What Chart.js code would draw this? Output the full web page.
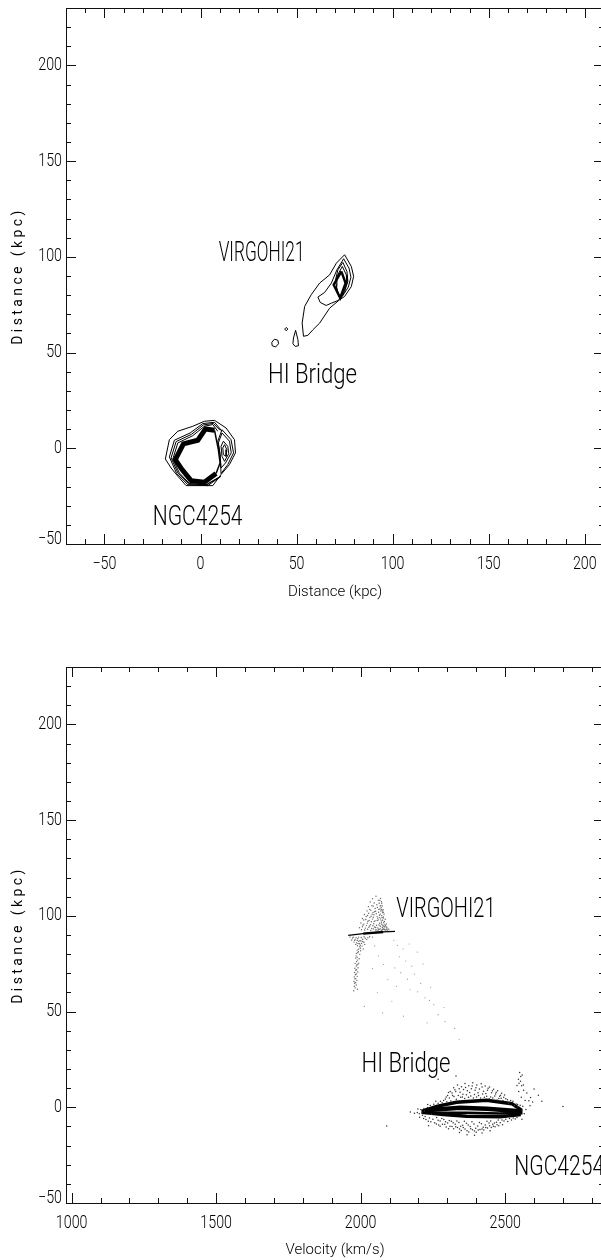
<!DOCTYPE html>
<html>
<head>
<meta charset="utf-8">
<script src="https://cdn.jsdelivr.net/npm/chart.js@4"></script>
<style>
  html, body { margin: 0; padding: 0; background: #fff; overflow: hidden; width: 601px; height: 1260px; }
  canvas { display: block; }
</style>
</head>
<body>
<canvas id="mapChart" width="610" height="630"></canvas>
<canvas id="velChart" width="610" height="633"></canvas>
<script>
// tick values
const distMajor = [-50, 0, 50, 100, 150, 200];
const distMinor = [-60, -40, -30, -20, -10, 10, 20, 30, 40, 60, 70, 80, 90, 110, 120, 130, 140, 160, 170, 180, 190, 210, 220];
const velMajor = [1000, 1500, 2000, 2500];
const velMinor = [1100, 1200, 1300, 1400, 1600, 1700, 1800, 1900, 2100, 2200, 2300, 2400, 2600, 2700, 2800];

// top panel contours (kpc, kpc)
const virgoOuter = [[75, 101.1], [78.5, 95], [79.7, 89.8], [78.5, 84.5], [75, 79.3], [72.4, 77.6], [67.2, 73.2], [62, 65.4], [58.5, 61.9], [55.9, 59], [53.6, 58.5], [52.9, 65.4], [54.2, 74.1], [57.6, 80.2], [62, 86.3], [67.2, 90.6], [70.7, 96.7]];
const virgoHook = [[74.5, 99], [77.3, 94.1], [78.3, 89.4], [76.9, 84.2], [73.8, 79.3], [71.5, 77.2], [68.1, 75.8], [65.4, 74.6], [62.3, 76.2], [61.1, 79], [64.6, 81.4], [68.1, 86.3], [71, 93.2]];
const virgoMid1 = [[74.1, 97.1], [76.2, 92.4], [76.7, 87.2], [75, 81.9], [72.7, 77.9], [71, 82.8], [70.3, 88], [71.5, 93.2]];
const virgoMid2 = [[73.8, 95], [75.9, 90.6], [76.2, 86.3], [74.1, 80.2], [72.4, 78.5], [70.7, 84.5], [71, 89.8]];
const virgoCore = [[73.3, 92.4], [75.5, 86.3], [72.7, 78.5], [69.3, 85.4]];
const blobA = [[37.1, 55.3], [38.5, 57], [40.3, 56.4], [40.6, 54.6], [39.1, 52.9], [37.3, 53.6]];
const blobB = [[43.8, 62.3], [44.6, 63.1], [45.5, 62.3], [44.6, 61.4]];
const blobC = [[49.5, 61.6], [50.7, 56.7], [51, 53.6], [49.3, 53.2], [48.1, 54.6], [48.4, 57.6]];
const ngcOuter = [[-18.3, -5.6], [-16.2, 4.5], [-11.8, 8.9], [-4, 11.5], [2, 14.1], [7.3, 14.6], [13.3, 10.6], [17.7, 4.5], [18.2, -2.4], [15.1, -8.5], [10.7, -13.7], [6.4, -19.5], [-7.5, -19.5], [-11.8, -14.6], [-15.3, -10.3]];
const ngcBand = [[8.1, -13.2], [2, -17.7], [-4.9, -16.9], [-9.6, -11.1], [-13.1, -5.9], [-8.9, 2.3], [-1.4, 4.2], [2.6, 10.1], [7.3, 9.4]];
const ngcBandRight = [[7.3, 9.4], [9.3, -0.7], [10.2, -7.7], [8.1, -13.2]];
const ngcArcB = [[9, -15.5], [2.9, -19], [-5.8, -18.4], [-11, -12.9], [-14.4, -5.6], [-11.8, 2.8], [-4, 6.6], [2, 11.5], [6.4, 12.4], [9, 8.9]];
const ngcArcC = [[10.7, -14.6], [3.8, -19.5], [-6.6, -19], [-12.4, -13.2], [-16.2, -4.5], [-13.6, 4.2], [-5.4, 8], [1.2, 12.9], [7.3, 13.6], [11.2, 8.9]];
const ngcArcD = [[9.9, -15], [3.3, -19.1], [-6.1, -18.6], [-11.7, -13], [-15.3, -5], [-12.7, 3.5], [-4.7, 7.3], [1.5, 12.2], [6.7, 13], [10.2, 9.4]];
const ngcLobe0 = [[11.2, 9.7], [15.9, 4.5], [17.2, -2.4], [14.2, -8.5], [10.7, -13.2], [10.2, -3.3], [9, 3.7]];
const ngcLobe1 = [[11.2, 8], [15.1, 3.7], [16, -2.4], [13, -7.7], [10.7, -10.3], [10.2, -3.3], [9.3, 2.8]];
const ngcLobe2 = [[11.9, 3.7], [14.2, 1], [14.7, -2.8], [12.5, -6.8], [11.2, -4.2], [10.7, 1]];
const ngcLobe3 = [[12.5, 1.9], [13.7, -0.7], [13.3, -4.2], [11.9, -3.3], [11.6, 0.2]];

// bottom panel lines (km/s, kpc)
const virgoLine = [[1957, 89.8], [2009, 90.7], [2078, 91.6], [2119, 91.9]];
const virgoLineCore = [[2009, 90.7], [2078, 91.6]];
const ngcUpper = [[2211, -2.1], [2263, 0.5], [2332, 2.6], [2436, 3.7], [2523, 1.9], [2554, -1.2], [2554, -3.8]];
const ngcLower = [[2211, -2.6], [2286, -3.8], [2367, -4.7], [2482, -5], [2554, -3.8]];
const ngcMid1 = [[2225, -1.6], [2344, -0.3], [2436, -0.8], [2552, -2.1]];
const ngcMid2 = [[2235, -2.8], [2367, -2.9], [2482, -3.3], [2552, -2.9]];

// bottom panel particles
const virgoCloud = [[2041, 109], [2053, 110.3], [2061, 108.2], [2069, 109.1], [2033, 107.2], [2047, 106.7], [2056, 105.8], [2064, 106.6], [2072, 107.4], [2027, 104.8], [2039, 105.3], [2050, 103.9], [2058, 104.4], [2067, 103.6], [2075, 105.2], [2022, 102.6], [2031, 103.4], [2043, 101.8], [2052, 102.4], [2062, 101.9], [2070, 102.5], [2078, 103.2], [2013, 100.7], [2024, 100.2], [2036, 99.8], [2046, 100.6], [2057, 99.6], [2065, 100.3], [2073, 100.1], [2081, 100.9], [2006, 98.6], [2018, 98.1], [2029, 97.6], [2041, 98.3], [2050, 97.4], [2061, 97.9], [2069, 98.4], [2076, 97.7], [2085, 98.2], [2001, 96.3], [2011, 95.7], [2023, 96.2], [2034, 95.4], [2045, 95.9], [2055, 95.1], [2066, 96.1], [2073, 95.6], [2080, 96.4], [2089, 95.8], [1996, 93.8], [2006, 94.3], [2016, 93.6], [2028, 94.1], [2038, 93.4], [2048, 94.2], [2059, 93.7], [2068, 94.4], [2075, 93.9], [2083, 94.3], [2091, 93.8], [2003, 92.8], [2014, 92.6], [2024, 93], [2035, 92.4], [2044, 93.1], [2056, 92.7], [2064, 92.9], [2072, 92.5], [2079, 93.1], [2086, 92.6], [2095, 93.1], [2071, 104.2], [2076, 101.6], [2078, 98.8], [2082, 97.1], [2074, 99.2], [2068, 100.9], [2086, 94.9], [2090, 93], [2066, 108.1], [2070, 105.4], [2073, 103.2], [2077, 95.1], [2081, 93.6], [2067, 94.9], [2060, 92.2]];
const virgoCloud2 = [[2044, 105.1], [2035, 102.9], [2048, 102.2], [2028, 101.4], [2040, 100.9], [2054, 101.1], [2019, 99.7], [2032, 99.1], [2044, 99.3], [2059, 98.8], [2011, 97.8], [2025, 97.2], [2037, 96.9], [2047, 97.1], [2057, 97.6], [2008, 95.2], [2020, 94.9], [2031, 94.7], [2042, 94.8], [2052, 93.9], [2063, 95.3], [2071, 97.4], [2079, 99.4], [2084, 95.4], [2088, 94.3], [2073, 106.6], [2067, 105.1], [2063, 103.3], [2075, 102.6], [2079, 101.9], [2065, 99.1], [2072, 96.6], [2078, 94.6], [2069, 93.2], [2076, 92.9], [2083, 92.8], [2092, 92.3], [2098, 92.7], [2063, 93.1], [2052, 92.6], [1963, 88.9], [1969, 87.4], [1975, 88.9], [1984, 88.6], [1993, 88.9], [2002, 88.7], [2012, 89.1], [2021, 87.6], [2031, 89.1], [2041, 88.9], [1979, 87.2], [1988, 87.1], [1996, 85.4], [2001, 86.9], [2007, 86.6], [1983, 85.1], [1991, 85.6], [1999, 84.7], [2014, 85.1], [1992, 81.3], [1988, 82.1], [1985, 80.4], [1983, 77.9], [1989, 76.9], [1981, 75.2], [1987, 74.4], [1980, 72.6], [1986, 71.9], [1979, 70.4], [1985, 69.6], [1978, 68.1], [1983, 67.2], [1977, 65.7], [1983, 65.1], [1978, 63.2]];
const virgoBelow = [[1972, 88.4], [1981, 87.6], [1990, 88.1], [1998, 87.2], [2007, 87.8], [2016, 88.3], [2025, 88.6], [1977, 86.3], [1986, 85.9], [1994, 86.7], [2003, 85.6], [2011, 86.2], [1989, 84.4], [1997, 83.9], [2005, 84.2], [1993, 82.6], [2000, 81.8], [1990, 80.7], [1997, 79.9], [1988, 78.4], [1995, 77.6], [1986, 76.1], [1993, 75.3], [1985, 73.8], [1991, 72.9], [1983, 71.6], [1990, 70.7], [1982, 69.2], [1988, 68.4], [1980, 67.1], [1987, 66.3], [1979, 64.8], [1985, 63.9], [1981, 62.4], [1989, 61.7], [1976, 60.9], [1990, 74.6], [1984, 79.1], [1999, 83.1], [2009, 82.7]];
const virgoSparse = [[2115, 87.2], [2127, 84.6], [2147, 82.8], [2168, 85.3], [2134, 78.6], [2156, 76.4], [2177, 73.7], [2196, 81.1], [2118, 72.8], [2139, 70.3], [2162, 66.9], [2186, 69.6], [2208, 64.7], [2124, 63.2], [2171, 61.4], [2197, 60.3], [2223, 57.2], [2238, 55.8], [2253, 53.6], [2242, 62.7], [2268, 48.4], [2292, 44.8], [2325, 41.2], [2341, 35.4], [2288, 52.1], [2216, 74.8], [2048, 84.3], [2062, 79.1], [2079, 74.6], [2094, 66.7], [2041, 72.4], [2058, 60.1], [2108, 55.4], [2013, 52.7], [2076, 49.3], [2148, 47.6], [2230, 44.1]];
const ngcCloud = [[2310, 8.3], [2322, 10.2], [2335, 11.6], [2349, 10.7], [2361, 12.4], [2374, 11.2], [2388, 12.8], [2402, 11.7], [2417, 12.3], [2431, 11.1], [2446, 10.6], [2460, 9.4], [2474, 8.7], [2488, 7.3], [2301, 6.1], [2316, 7.4], [2329, 8.2], [2344, 7.8], [2356, 9.3], [2369, 8.6], [2383, 9.7], [2396, 8.9], [2411, 9.6], [2425, 8.4], [2439, 8.9], [2453, 7.6], [2467, 6.9], [2481, 5.7], [2495, 5.2], [2508, 3.9], [2293, 4.3], [2307, 4.9], [2323, 5.6], [2338, 6.1], [2352, 5.4], [2366, 6.6], [2381, 5.9], [2394, 6.7], [2408, 6.2], [2422, 6.9], [2436, 5.8], [2450, 5.4], [2464, 5.9], [2478, 4.6], [2492, 3.6], [2514, 2.6], [2527, 3.1], [2538, 1.7], [2282, 2.4], [2298, 2.9], [2312, 3.3], [2331, 4.2], [2360, 4.6], [2390, 4.9], [2415, 4.8], [2445, 4.4], [2472, 3.8], [2502, 4.4], [2532, 0.9], [2268, 2.1], [2253, 1.6], [2241, 0.9], [2544, 0.3], [2231, -0.1], [2223, -4.8], [2238, -5.6], [2250, -6.2], [2263, -5.4], [2275, -7.1], [2288, -6.4], [2301, -8.2], [2314, -7.3], [2327, -8.9], [2340, -7.9], [2353, -9.4], [2366, -8.3], [2379, -10.1], [2392, -8.7], [2405, -9.8], [2418, -8.6], [2431, -9.3], [2444, -8.2], [2457, -8.9], [2470, -7.8], [2483, -8.1], [2496, -7.2], [2509, -7.4], [2522, -6.6], [2535, -6.1], [2270, -9.3], [2283, -8.8], [2296, -10.3], [2309, -9.9], [2322, -11.2], [2335, -10.6], [2348, -12.1], [2361, -11.3], [2374, -12.9], [2387, -11.7], [2400, -13.1], [2413, -11.6], [2426, -11.9], [2439, -10.8], [2452, -10.6], [2465, -10.2], [2478, -9.6], [2491, -9.1], [2342, -13.2], [2368, -14.4], [2394, -14.6], [2420, -13.4], [2448, -12.3], [2556, 5.3], [2547, 8.2], [2541, 11.4], [2553, 13.6], [2559, 16.9], [2550, 18.2], [2563, 11.7], [2575, 7.4], [2588, 5.1], [2600, 9.6], [2615, 6.3], [2627, 3.2], [2569, 3.6], [2700, 0.4], [2586, 0.8], [2235, -9.6], [2198, -0.9], [2186, -3.1], [2172, -2.4], [2204, -5.2], [2090, -9.8], [2268, 14.7], [2330, 16.3]];
const ngcCloud2 = [[2318, 6.2], [2326, 9.1], [2341, 9.7], [2354, 6.8], [2363, 10.4], [2377, 7.7], [2386, 11.1], [2399, 10.2], [2406, 7.6], [2420, 10.6], [2433, 7.2], [2441, 9.9], [2456, 8.6], [2469, 7.9], [2484, 6.3], [2498, 6.4], [2296, 5.4], [2304, 7.7], [2287, 3.6], [2276, 3.1], [2346, 5.2], [2373, 5.3], [2401, 5.4], [2428, 5.3], [2457, 4.9], [2486, 4.7], [2511, 1.9], [2519, 3.6], [2543, 1.4], [2552, 1.1], [2219, -0.6], [2208, -1.1], [2214, -4.1], [2203, -3.4], [2226, -6.4], [2243, -7.6], [2256, -8.1], [2268, -6.8], [2281, -5.9], [2294, -7.6], [2307, -6.9], [2320, -8.1], [2333, -7.2], [2346, -9.9], [2359, -7.3], [2372, -9.2], [2385, -7.6], [2398, -10.9], [2411, -7.9], [2424, -10.4], [2437, -7.3], [2450, -7.1], [2463, -8.2], [2476, -6.6], [2489, -6.7], [2502, -6.3], [2515, -5.9], [2528, -5.6], [2541, -5.3], [2262, -8.7], [2275, -9.9], [2291, -8.9], [2304, -11.2], [2316, -10.1], [2329, -10.2], [2342, -11.4], [2355, -10.6], [2368, -12.3], [2381, -11.2], [2394, -12.4], [2407, -11.9], [2420, -11.4], [2433, -10.6], [2446, -9.7], [2459, -9.9], [2472, -9.1], [2234, -7.3], [2218, -5.9], [2196, -2.7], [2558, -1.6], [2561, 0.6], [2566, -3.4], [2558, -6.2], [2572, -1.2], [2564, 8.9], [2557, 11.2], [2546, 14.7], [2554, 16.1], [2548, 12.6], [2582, 3.4], [2595, 2.7], [2245, -3.6], [2260, 3.1], [2232, 1.4], [2220, -1.9], [2212, -2.8]];

// text labels placed by data position: text, x, y, horizontal squeeze
const mapLabels = [["VIRGOHI21", 31.8, 101.6, 0.64], ["HI Bridge", 58.3, 37.5, 0.82], ["NGC4254", -1.5, -36.5, 0.78]];
const velLabels = [["VIRGOHI21", 2295, 103, 0.74], ["HI Bridge", 2157, 22, 0.82], ["NGC4254", 2687, -32, 0.78]];

const thinFont = "Roboto, sans-serif";
const ink = "#000";

function contour(points, width) {
  const closed = points.concat([points[0]]);
  return polyline(closed, width);
}

function polyline(points, width) {
  return {
    data: points.map((p) => ({ x: p[0], y: p[1] })),
    showLine: true,
    borderColor: "#000",
    borderWidth: width,
    borderJoinStyle: "miter",
    pointRadius: 0,
    tension: 0,
  };
}

function particles(points, radius, color) {
  return {
    data: points.map((p) => ({ x: p[0], y: p[1] })),
    showLine: false,
    pointRadius: radius,
    pointBorderWidth: 0,
    pointBackgroundColor: color,
  };
}

function squeezedText(ctx, text, px, py, squeeze) {
  ctx.save();
  ctx.translate(px, py);
  ctx.scale(squeeze, 1);
  ctx.fillText(text, 0, 0);
  ctx.restore();
}

// IDL style frame: ticks point inwards on all four sides
function frameAndText(xMajor, xMinor, labels) {
  return {
    id: "frameAndText",
    afterDraw(chart) {
      const { ctx, chartArea: a, scales } = chart;
      const x = scales.x;
      const y = scales.y;
      ctx.save();
      ctx.strokeStyle = "#111";
      ctx.lineWidth = 1;
      ctx.beginPath();
      ctx.moveTo(a.left + 0.5, a.top + 0.5);
      ctx.lineTo(a.right, a.top + 0.5);
      ctx.moveTo(a.left + 0.5, a.bottom + 0.5);
      ctx.lineTo(a.right, a.bottom + 0.5);
      ctx.moveTo(a.left + 0.5, a.top);
      ctx.lineTo(a.left + 0.5, a.bottom);
      const xTick = (v, len) => {
        if (v < x.min || v > x.max) return;
        const px = Math.round(x.getPixelForValue(v)) + 0.5;
        ctx.moveTo(px, a.bottom);
        ctx.lineTo(px, a.bottom - len);
        ctx.moveTo(px, a.top);
        ctx.lineTo(px, a.top + len);
      };
      const yTick = (v, len) => {
        if (v < y.min || v > y.max) return;
        const py = Math.round(y.getPixelForValue(v)) + 0.5;
        ctx.moveTo(a.left, py);
        ctx.lineTo(a.left + len, py);
        ctx.moveTo(a.right, py);
        ctx.lineTo(a.right - len, py);
      };
      xMajor.forEach((v) => xTick(v, 10));
      xMinor.forEach((v) => xTick(v, 5));
      distMajor.forEach((v) => yTick(v, 10));
      distMinor.forEach((v) => yTick(v, 5));
      ctx.stroke();

      ctx.fillStyle = ink;
      ctx.textBaseline = "middle";

      // tick labels, narrow like the original
      ctx.font = "300 18px " + thinFont;
      ctx.textAlign = "center";
      x.ticks.forEach((t) => {
        squeezedText(ctx, String(t.value).replace("-", "\u2212"), x.getPixelForValue(t.value), a.bottom + 20, 0.79);
      });
      ctx.textAlign = "right";
      y.ticks.forEach((t) => {
        const lift = t.value === -50 ? 5 : 0;
        squeezedText(ctx, String(t.value).replace("-", "\u2212"), 62, y.getPixelForValue(t.value) - lift, 0.79);
      });

      // annotations
      ctx.textAlign = "center";
      ctx.font = "300 27px " + thinFont;
      labels.forEach(([text, vx, vy, squeeze]) => {
        squeezedText(ctx, text, x.getPixelForValue(vx), y.getPixelForValue(vy), squeeze);
      });

      // y title is stretched in the original
      ctx.translate(18, (a.top + a.bottom) / 2);
      ctx.rotate(-Math.PI / 2);
      ctx.font = "400 14px " + thinFont;
      ctx.letterSpacing = "3.4px";
      ctx.fillText("Distance (kpc)", 0, 0);
      ctx.restore();
    },
  };
}

function makeChart(id, datasets, opts) {
  return new Chart(document.getElementById(id), {
    type: "scatter",
    data: { datasets },
    plugins: [frameAndText(opts.xMajor, opts.xMinor, opts.labels)],
    options: {
      responsive: false,
      animation: false,
      layout: { padding: { top: opts.top, right: 6, left: 0, bottom: 0 } },
      plugins: { legend: { display: false }, tooltip: { enabled: false } },
      scales: {
        x: {
          type: "linear",
          min: opts.xMin,
          max: opts.xMax,
          afterBuildTicks: (s) => { s.ticks = opts.xMajor.map((value) => ({ value })); },
          afterFit: (s) => { s.height = opts.bottomSpace; s.paddingLeft = 0; s.paddingRight = 0; },
          grid: { display: false, drawTicks: false },
          border: { display: false },
          title: { display: true, text: opts.xTitle, color: ink, font: { family: thinFont, size: 15, weight: "300" }, padding: { top: 0, bottom: opts.titleGap } },
          ticks: { display: false, autoSkip: false },
        },
        y: {
          type: "linear",
          min: -50,
          max: 230,
          afterBuildTicks: (s) => { s.ticks = distMajor.map((value) => ({ value })); },
          afterFit: (s) => { s.width = 66; s.paddingTop = 0; s.paddingBottom = 0; },
          grid: { display: false, drawTicks: false },
          border: { display: false },
          ticks: { display: false, autoSkip: false },
        },
      },
    },
  });
}

const mapDatasets = [
  contour(virgoOuter, 1), contour(virgoHook, 1), contour(virgoMid1, 1), contour(virgoMid2, 1), contour(virgoCore, 2.4),
  contour(blobA, 1), contour(blobB, 1), contour(blobC, 1),
  contour(ngcOuter, 1), polyline(ngcArcC, 1), polyline(ngcArcD, 1), polyline(ngcArcB, 1),
  polyline(ngcBand, 5), polyline(ngcBandRight, 1.5),
  contour(ngcLobe0, 1), contour(ngcLobe1, 1), contour(ngcLobe2, 1), contour(ngcLobe3, 1),
];

const velDatasets = [
  particles(virgoCloud, 0.7, "#666"), particles(virgoCloud2, 0.7, "#666"), particles(virgoBelow, 0.7, "#666"), particles(virgoSparse, 0.6, "#999"),
  particles(ngcCloud, 0.75, "#333"), particles(ngcCloud2, 0.75, "#333"),
  polyline(virgoLine, 1.2), polyline(virgoLineCore, 2.4),
  polyline(ngcUpper, 3.5), polyline(ngcLower, 3.5), polyline(ngcMid1, 4.5), polyline(ngcMid2, 2.5),
];

makeChart("mapChart", mapDatasets, {
  top: 8, bottomSpace: 86, xMin: -70, xMax: 210, titleGap: 29,
  xMajor: distMajor, xMinor: distMinor, xTitle: "Distance (kpc)", labels: mapLabels,
});

makeChart("velChart", velDatasets, {
  top: 37, bottomSpace: 60, xMin: 980.5, xMax: 2842, titleGap: 4,
  xMajor: velMajor, xMinor: velMinor, xTitle: "Velocity (km/s)", labels: velLabels,
});
</script>
</body>
</html>
